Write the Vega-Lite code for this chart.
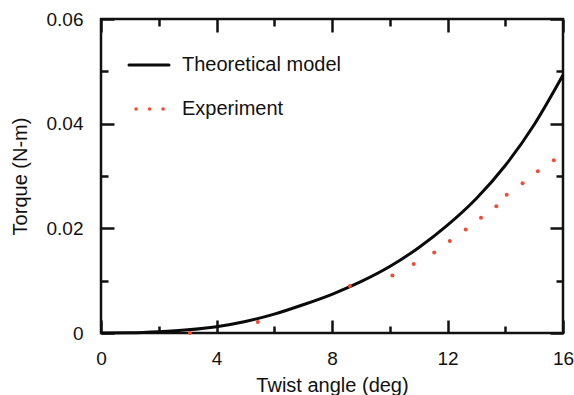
{
  "$schema": "https://vega.github.io/schema/vega-lite/v6.json",
  "width": 462,
  "height": 314,
  "autosize": "none",
  "padding": {"left": 101, "top": 19, "right": 11, "bottom": 62},
  "background": "white",
  "config": {
    "view": {"stroke": "#111", "strokeWidth": 2.5},
    "font": "Liberation Sans",
    "axis": {"domain": false, "grid": false, "ticks": true, "labelFont": "Liberation Sans", "titleFont": "Liberation Sans", "labelColor": "#111", "titleColor": "#111", "tickColor": "#111", "tickWidth": 2.5, "labelFontSize": 19, "titleFontSize": 20, "titleFontWeight": "normal"},
    "legend": {"labelFont": "Liberation Sans", "labelFontSize": 20, "labelColor": "#111"}
  },
  "datasets": {
    "theory": [
      {"angle": 0, "torque": 0, "series": "Theoretical model"},
      {"angle": 1, "torque": 0.00005, "series": "Theoretical model"},
      {"angle": 2, "torque": 0.00025, "series": "Theoretical model"},
      {"angle": 3, "torque": 0.0006, "series": "Theoretical model"},
      {"angle": 4, "torque": 0.0012, "series": "Theoretical model"},
      {"angle": 5, "torque": 0.0022, "series": "Theoretical model"},
      {"angle": 6, "torque": 0.0036, "series": "Theoretical model"},
      {"angle": 7, "torque": 0.0054, "series": "Theoretical model"},
      {"angle": 8, "torque": 0.0074, "series": "Theoretical model"},
      {"angle": 9, "torque": 0.0098, "series": "Theoretical model"},
      {"angle": 10, "torque": 0.0127, "series": "Theoretical model"},
      {"angle": 11, "torque": 0.0163, "series": "Theoretical model"},
      {"angle": 12, "torque": 0.0206, "series": "Theoretical model"},
      {"angle": 13, "torque": 0.0257, "series": "Theoretical model"},
      {"angle": 14, "torque": 0.032, "series": "Theoretical model"},
      {"angle": 15, "torque": 0.0398, "series": "Theoretical model"},
      {"angle": 16, "torque": 0.0493, "series": "Theoretical model"}
    ],
    "experiment": [
      {"angle": 3.08, "torque": 0.0, "series": "Experiment"},
      {"angle": 5.43, "torque": 0.0021, "series": "Experiment"},
      {"angle": 8.62, "torque": 0.009, "series": "Experiment"},
      {"angle": 10.09, "torque": 0.011, "series": "Experiment"},
      {"angle": 10.83, "torque": 0.0132, "series": "Experiment"},
      {"angle": 11.54, "torque": 0.0154, "series": "Experiment"},
      {"angle": 12.08, "torque": 0.0176, "series": "Experiment"},
      {"angle": 12.63, "torque": 0.0198, "series": "Experiment"},
      {"angle": 13.16, "torque": 0.022, "series": "Experiment"},
      {"angle": 13.69, "torque": 0.0242, "series": "Experiment"},
      {"angle": 14.05, "torque": 0.0264, "series": "Experiment"},
      {"angle": 14.6, "torque": 0.0286, "series": "Experiment"},
      {"angle": 15.13, "torque": 0.0309, "series": "Experiment"},
      {"angle": 15.68, "torque": 0.033, "series": "Experiment"}
    ]
  },
  "layer": [
    {
      "data": {"name": "theory"},
      "mark": {"type": "line", "strokeWidth": 3, "interpolate": "monotone"},
      "encoding": {
        "x": {
          "field": "angle", "type": "quantitative",
          "scale": {"domain": [0, 16], "nice": false, "zero": false},
          "axis": {
            "orient": "bottom", "title": "Twist angle (deg)", "values": [0, 4, 8, 12, 16],
            "labelExpr": "datum.label",
            "ticks": true, "tickColor": "#111", "tickWidth": 2.5,
            "tickSize": -13, "labelPadding": 29, "titlePadding": 7, "labelFlush": false,
            "encode": {"ticks": {"update": {"stroke": {"value": "#111"}, "strokeWidth": {"value": 2.5}}}}
          }
        },
        "y": {
          "field": "torque", "type": "quantitative",
          "scale": {"domain": [0, 0.06], "nice": false},
          "axis": {
            "orient": "left", "title": "Torque (N-m)", "values": [0, 0.02, 0.04, 0.06],
            "labelExpr": "datum.value === 0 ? '0' : format(datum.value, '.2f')",
            "ticks": true, "tickColor": "#111", "tickWidth": 2.5,
            "tickSize": -13, "labelPadding": 31, "titlePadding": 16, "labelFlush": false
          }
        },
        "color": {
          "field": "series", "type": "nominal",
          "scale": {"domain": ["Theoretical model", "Experiment"], "range": ["#0a0a0a", "#f24b30"]},
          "legend": {
            "title": null, "orient": "none", "legendX": 38, "legendY": 36,
            "symbolType": "stroke", "symbolSize": 1600, "symbolStrokeWidth": 3,
            "labelOffset": 23, "rowPadding": 24,
            "encode": {
              "symbols": {"update": {
                "strokeDash": {"signal": "datum.value === 'Experiment' ? [0.1, 13.4] : [1, 0]"},
                "strokeDashOffset": {"signal": "datum.value === 'Experiment' ? -7 : 0"},
                "strokeCap": {"value": "round"},
                "strokeWidth": {"signal": "datum.value === 'Experiment' ? 3.5 : 3"}
              }}
            }
          }
        }
      }
    },
    {
      "data": {"name": "experiment"},
      "mark": {"type": "point", "filled": true, "size": 16, "color": "#f24b30", "opacity": 1},
      "encoding": {
        "x": {
          "field": "angle", "type": "quantitative",
          "axis": {"orient": "top", "title": null, "values": [0, 4, 8, 12, 16], "labelExpr": "''", "ticks": true, "tickColor": "#111", "tickWidth": 2.5, "tickSize": -13,
            "encode": {"ticks": {"update": {"stroke": {"value": "#111"}, "strokeWidth": {"value": 2.5}}}}}
        },
        "y": {
          "field": "torque", "type": "quantitative",
          "axis": {"orient": "right", "title": null, "values": [0, 0.02, 0.04, 0.06], "labels": false, "ticks": true, "tickColor": "#111", "tickWidth": 2.5, "tickSize": -13}
        }
      }
    },
    {
      "data": {"name": "experiment"},
      "mark": {"type": "point", "filled": true, "size": 16, "color": "#f24b30", "opacity": 0},
      "encoding": {
        "x": {
          "field": "angle", "type": "quantitative",
          "axis": {"orient": "bottom", "title": null, "values": [2, 6, 10, 14], "labelExpr": "''", "ticks": true, "tickColor": "#111", "tickWidth": 2.5, "tickSize": -7,
            "encode": {"ticks": {"update": {"stroke": {"value": "#111"}, "strokeWidth": {"value": 2.5}}}}}
        },
        "y": {
          "field": "torque", "type": "quantitative",
          "axis": {"orient": "left", "title": null, "values": [0.01, 0.03, 0.05], "labels": false, "ticks": true, "tickColor": "#111", "tickWidth": 2.5, "tickSize": -7}
        }
      }
    },
    {
      "data": {"name": "experiment"},
      "mark": {"type": "point", "filled": true, "size": 16, "color": "#f24b30", "opacity": 0},
      "encoding": {
        "x": {
          "field": "angle", "type": "quantitative",
          "axis": {"orient": "top", "title": null, "values": [2, 6, 10, 14], "labelExpr": "''", "ticks": true, "tickColor": "#111", "tickWidth": 2.5, "tickSize": -7,
            "encode": {"ticks": {"update": {"stroke": {"value": "#111"}, "strokeWidth": {"value": 2.5}}}}}
        },
        "y": {
          "field": "torque", "type": "quantitative",
          "axis": {"orient": "right", "title": null, "values": [0.01, 0.03, 0.05], "labels": false, "ticks": true, "tickColor": "#111", "tickWidth": 2.5, "tickSize": -7}
        }
      }
    }
  ],
  "resolve": {"axis": {"x": "independent", "y": "independent"}}
}
